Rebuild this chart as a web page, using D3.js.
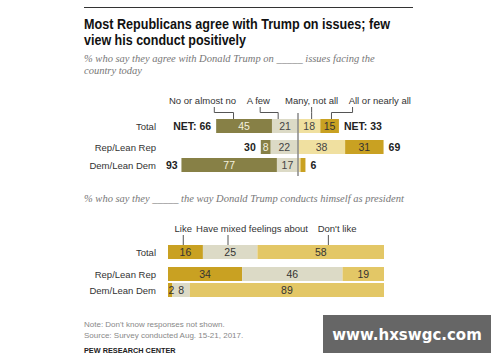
<!DOCTYPE html>
<html>
<head>
<meta charset="utf-8">
<script src="https://cdn.jsdelivr.net/npm/d3@7"></script>
<style>
  body { margin: 0; background: #fff; }
  text { font-family: "Liberation Sans", Arial, sans-serif; }
</style>
</head>
<body>
<div id="chart"></div>
<script>
// data
const groups = ["Total", "Rep/Lean Rep", "Dem/Lean Dem"];

const issueCats = ["No or almost no", "A few", "Many, not all", "All or nearly all"];
const noneAlmost = [45, 8, 77];
const aFew = [21, 22, 17];
const manyNotAll = [18, 38, 2];
const allNearly = [15, 31, 4];
const netNegative = [66, 30, 93];
const netPositive = [33, 69, 6];

const conductCats = ["Like", "Have mixed feelings about", "Don't like"];
const like = [16, 34, 2];
const mixed = [25, 46, 8];
const dislike = [58, 19, 89];

const W = 500, H = 362;

const svg = d3.select("#chart").append("svg")
  .attr("width", W).attr("height", H);

// header
svg.append("line").attr("x1", 84).attr("x2", 413).attr("y1", 7.5).attr("y2", 7.5)
  .attr("stroke", "#333").attr("stroke-width", 1);

const title = svg.append("text").attr("x", 84).attr("y", 29)
  .attr("font-size", 15).attr("font-weight", "bold").attr("fill", "#111");
title.append("tspan").attr("x", 84)
  .attr("textLength", 306).attr("lengthAdjust", "spacingAndGlyphs")
  .text("Most Republicans agree with Trump on issues; few");
title.append("tspan").attr("x", 84).attr("dy", 16)
  .attr("textLength", 162).attr("lengthAdjust", "spacingAndGlyphs")
  .text("view his conduct positively");

const sub = svg.append("text").attr("x", 84).attr("y", 62)
  .style("font-family", "'Liberation Serif', 'DejaVu Serif', serif")
  .attr("font-style", "italic").attr("font-size", 10.5).attr("fill", "#777");
sub.append("tspan").attr("x", 84).text("% who say they agree with Donald Trump on _____ issues facing the");
sub.append("tspan").attr("x", 84).attr("dy", 12).text("country today");

// ---------- top chart: diverging bars ----------
const x = d3.scaleLinear().domain([-100, 100]).range([174, 422]);
const yTop = d3.scaleOrdinal().domain(groups).range([119, 140, 158]);
const barH = 14;
const topColors = ["#878046", "#dcdac6", "#f0e0a0", "#c9a122"];
const topText = ["#f4f1de", "#444", "#444", "#333"];

const topRows = groups.map((g, i) => {
  const neg = [
    { cat: 0, v: noneAlmost[i] },
    { cat: 1, v: aFew[i] }
  ];
  const pos = [
    { cat: 2, v: manyNotAll[i] },
    { cat: 3, v: allNearly[i] }
  ];
  const segs = [];
  let start = -(noneAlmost[i] + aFew[i]);
  neg.forEach(d => { segs.push({ ...d, x0: start, x1: start + d.v }); start += d.v; });
  start = 0;
  pos.forEach(d => { segs.push({ ...d, x0: start, x1: start + d.v }); start += d.v; });
  return { g, i, segs };
});

const rowsTop = svg.append("g").selectAll("g").data(topRows).join("g");

rowsTop.selectAll("rect").data(d => d.segs.map(s => ({ ...s, g: d.g }))).join("rect")
  .attr("x", d => x(d.x0))
  .attr("width", d => x(d.x1) - x(d.x0))
  .attr("y", d => yTop(d.g))
  .attr("height", barH)
  .attr("fill", d => topColors[d.cat]);

rowsTop.selectAll("text.val").data(d => d.segs.filter(s => s.v >= 5).map(s => ({ ...s, g: d.g }))).join("text")
  .attr("class", "val")
  .attr("x", d => x((d.x0 + d.x1) / 2))
  .attr("y", d => yTop(d.g) + barH / 2 + 4)
  .attr("text-anchor", "middle")
  .attr("font-size", 10.5)
  .attr("fill", d => topText[d.cat])
  .text(d => d.v);

// net labels
rowsTop.append("text")
  .attr("x", d => x(-netNegative[d.i]) - 5)
  .attr("y", d => yTop(d.g) + barH / 2 + 4)
  .attr("text-anchor", "end").attr("font-size", 10.5).attr("font-weight", "bold").attr("fill", "#222")
  .text(d => (d.i === 0 ? "NET: " : "") + netNegative[d.i]);
rowsTop.append("text")
  .attr("x", d => x(netPositive[d.i]) + 5)
  .attr("y", d => yTop(d.g) + barH / 2 + 4)
  .attr("text-anchor", "start").attr("font-size", 10.5).attr("font-weight", "bold").attr("fill", "#222")
  .text(d => (d.i === 0 ? "NET: " : "") + netPositive[d.i]);

// row labels
rowsTop.append("text")
  .attr("x", 156).attr("y", d => yTop(d.g) + barH / 2 + 3.5)
  .attr("text-anchor", "end").attr("font-size", 9.5).attr("fill", "#333")
  .text(d => d.g);

// centre line
svg.append("line").attr("x1", x(0)).attr("x2", x(0)).attr("y1", 113).attr("y2", 176)
  .attr("stroke", "#888").attr("stroke-width", 1.5);

// category labels with leaders (top)
const topLab = [
  { lx: -77, tx: -67.5, to: -52 },
  { lx: -32, tx: -30.5, to: -16 },
  { lx: 11, tx: 11, to: 11 },
  { lx: 66, tx: 44, to: 27 }
];
topLab.forEach((d, k) => {
  svg.append("text").attr("x", x(d.lx)).attr("y", 104)
    .attr("text-anchor", "middle").attr("font-size", 9.5).attr("fill", "#333")
    .text(issueCats[k]);
  svg.append("path")
    .attr("d", `M${x(d.tx)},107V112.5H${x(d.to)}V119`)
    .attr("fill", "none").attr("stroke", "#555").attr("stroke-width", 1);
});

// ---------- second section ----------
svg.append("text").attr("x", 84).attr("y", 202)
  .style("font-family", "'Liberation Serif', 'DejaVu Serif', serif")
  .attr("font-style", "italic").attr("font-size", 10.5).attr("fill", "#777")
  .text("% who say they _____ the way Donald Trump conducts  himself as president");

const x2 = d3.scaleLinear().domain([0, 99]).range([168, 384]);
const yBot = d3.scaleOrdinal().domain(groups).range([245, 267, 283]);
const botColors = ["#c9a122", "#dcdac6", "#e3c766"];

const botRows = groups.map((g, i) => {
  const vals = [like[i], mixed[i], dislike[i]];
  let s = 0;
  const segs = vals.map((v, c) => { const o = { cat: c, v, x0: s, x1: s + v, g }; s += v; return o; });
  return { g, i, segs };
});

const rowsBot = svg.append("g").selectAll("g").data(botRows).join("g");
rowsBot.selectAll("rect").data(d => d.segs).join("rect")
  .attr("x", d => x2(d.x0))
  .attr("width", d => x2(d.x1) - x2(d.x0))
  .attr("y", d => yBot(d.g))
  .attr("height", barH)
  .attr("fill", d => botColors[d.cat]);
rowsBot.selectAll("text.val").data(d => d.segs).join("text")
  .attr("class", "val")
  .attr("x", d => d.v < 5 ? x2(d.x0) + 0.5 : x2((d.x0 + d.x1) / 2))
  .attr("y", d => yBot(d.g) + barH / 2 + 4)
  .attr("text-anchor", d => d.v < 5 ? "start" : "middle")
  .attr("font-size", 10.5).attr("fill", "#333")
  .text(d => d.v);
rowsBot.append("text")
  .attr("x", 156).attr("y", d => yBot(d.g) + barH / 2 + 3.5)
  .attr("text-anchor", "end").attr("font-size", 9.5).attr("fill", "#333")
  .text(d => d.g);

const botLab = [
  { lx: 7, to: 7 },
  { lx: 38.5, to: 27.5 },
  { lx: 77.5, to: 73.5 }
];
botLab.forEach((d, k) => {
  svg.append("text").attr("x", x2(d.lx)).attr("y", 232)
    .attr("text-anchor", "middle").attr("font-size", 9.5).attr("fill", "#333")
    .text(conductCats[k]);
  svg.append("line").attr("x1", x2(d.to)).attr("x2", x2(d.to)).attr("y1", 235).attr("y2", 245)
    .attr("stroke", "#555").attr("stroke-width", 1);
});

// footer
svg.append("text").attr("x", 84).attr("y", 327).attr("font-size", 8).attr("fill", "#888")
  .text("Note: Don't know responses not shown.");
svg.append("text").attr("x", 84).attr("y", 338).attr("font-size", 8).attr("fill", "#888")
  .text("Source: Survey conducted Aug. 15-21, 2017.");
svg.append("text").attr("x", 84).attr("y", 353).attr("font-size", 7.3).attr("font-weight", "bold").attr("fill", "#222")
  .text("PEW RESEARCH CENTER");

// watermark
svg.append("rect").attr("x", 323).attr("y", 315).attr("width", 168).attr("height", 38).attr("fill", "#666");
svg.append("text").attr("x", 407).attr("y", 339.5).attr("text-anchor", "middle")
  .style("font-family", "'DejaVu Sans', sans-serif")
  .attr("font-size", 15).attr("font-weight", "bold").attr("fill", "#fff")
  .text("www.hxswgc.com");
</script>
</body>
</html>
